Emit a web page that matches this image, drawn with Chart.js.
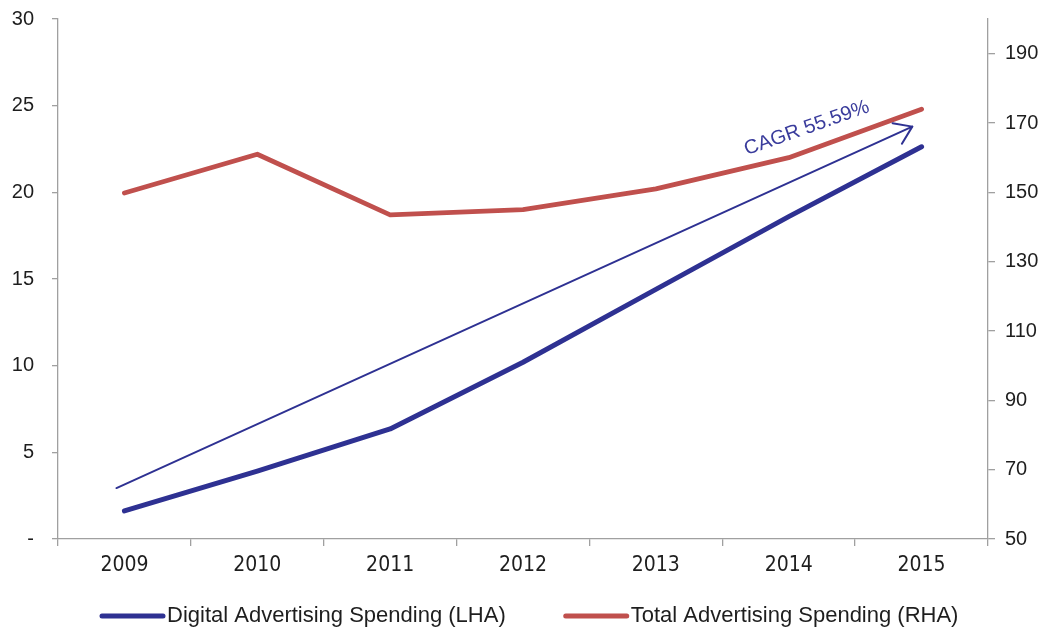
<!DOCTYPE html>
<html><head><meta charset="utf-8">
<script src="https://cdn.jsdelivr.net/npm/chart.js@4.4.0/dist/chart.umd.min.js"></script>
<style>html,body{margin:0;padding:0;background:#fff}#wrap{width:1054px;height:630px;position:relative}</style>
</head><body><div id="wrap"><canvas id="c" width="1054" height="630"></canvas></div>
<script>
const categories = ['2009', '2010', '2011', '2012', '2013', '2014', '2015'];
const digitalSpending = [1.62, 3.92, 6.35, 10.2, 14.4, 18.6, 22.63];
const totalSpending = [149.8, 161, 143.5, 145, 151, 160, 174];
const leftTicks = [0, 5, 10, 15, 20, 25, 30];
const rightTicks = [50, 70, 90, 110, 130, 150, 170, 190];
const trendX = [-0.06, 5.93];
const trendY = [2.94, 23.79];
const cagrLabel = 'CAGR 55.59%';
const seriesNames = ['Digital Advertising Spending (LHA)', 'Total Advertising Spending (RHA)'];

const BLUE = '#2e3192', RED = '#c0504d', AXIS = '#a0a0a0', TEXT = '#1e1e1e';
const SANS = "'Liberation Sans', Arial, sans-serif";
const NARROW = "'Liberation Sans Narrow', 'Arial Narrow', 'DejaVu Sans Condensed', sans-serif";

const annot = {
  id: 'annot',
  afterDatasetsDraw(chart) {
    const ctx = chart.ctx;
    const meta = chart.getDatasetMeta(2);
    const p0 = meta.data[0], p1 = meta.data[1];
    const ang = Math.atan2(p1.y - p0.y, p1.x - p0.x);
    ctx.save();
    ctx.strokeStyle = BLUE; ctx.lineWidth = 2; ctx.lineCap = 'round'; ctx.lineJoin = 'round';
    const L = 20, spread = 0.6;
    ctx.beginPath();
    ctx.moveTo(p1.x + L * Math.cos(ang + Math.PI - spread), p1.y + L * Math.sin(ang + Math.PI - spread));
    ctx.lineTo(p1.x, p1.y);
    ctx.lineTo(p1.x + L * Math.cos(ang + Math.PI + spread), p1.y + L * Math.sin(ang + Math.PI + spread));
    ctx.stroke();
    // label
    const lx = chart.scales.xt.getPixelForValue(5.15);
    const ly = chart.scales.y.getPixelForValue(23.4);
    ctx.translate(lx, ly);
    ctx.rotate(-19.5 * Math.PI / 180);
    ctx.fillStyle = '#3a3c9c';
    ctx.font = '20px ' + SANS;
    ctx.textAlign = 'center'; ctx.textBaseline = 'alphabetic';
    ctx.fillText(cagrLabel, 0, 0);
    ctx.restore();
  },
  afterDraw(chart) {
    const ctx = chart.ctx;
    ctx.save();
    ctx.font = '22px ' + SANS;
    ctx.textBaseline = 'middle';
    let x = 100;
    const y = 616;
    chart.data.datasets.slice(0, 2).forEach((ds) => {
      ctx.strokeStyle = ds.borderColor; ctx.lineWidth = 5; ctx.lineCap = 'round';
      ctx.beginPath(); ctx.moveTo(x + 2, y); ctx.lineTo(x + 63, y); ctx.stroke();
      ctx.fillStyle = TEXT;
      ctx.fillText(ds.label, x + 67, y);
      x += 67 + ctx.measureText(ds.label).width + 58;
    });
    ctx.restore();
  }
};

function fixV(width) {
  return function (s) { s.width = width; s.paddingTop = 0; s.paddingBottom = 0; };
}

new Chart(document.getElementById('c'), {
  type: 'line',
  data: {
    labels: categories,
    datasets: [
      { label: seriesNames[0], data: digitalSpending, borderColor: BLUE, backgroundColor: BLUE, borderWidth: 5,
        pointRadius: 0, xAxisID: 'x', yAxisID: 'y', tension: 0, borderCapStyle: 'round', borderJoinStyle: 'round' },
      { label: seriesNames[1], data: totalSpending, borderColor: RED, backgroundColor: RED, borderWidth: 4.8,
        pointRadius: 0, xAxisID: 'x', yAxisID: 'y2', tension: 0, borderCapStyle: 'round', borderJoinStyle: 'round' },
      { label: 'trend', data: trendX.map((x, i) => ({ x: x, y: trendY[i] })), borderColor: BLUE, borderWidth: 2,
        pointRadius: 0, xAxisID: 'xt', yAxisID: 'y', tension: 0, borderCapStyle: 'round' }
    ]
  },
  options: {
    responsive: false, animation: false, devicePixelRatio: 1,
    layout: { padding: { top: 19, bottom: 51, left: 0, right: 0 } },
    plugins: { legend: { display: false }, tooltip: { enabled: false } },
    scales: {
      x: {
        type: 'category', offset: true,
        grid: { display: true, drawOnChartArea: false, offset: true, tickLength: 7, color: AXIS, lineWidth: 1.3 },
        border: { color: AXIS, width: 1.3 },
        ticks: { font: { family: NARROW, size: 21 }, color: TEXT, padding: 7, maxRotation: 0, autoSkip: false },
        afterFit(s) { s.height = 40; s.paddingLeft = 0; s.paddingRight = 0; }
      },
      xt: { type: 'linear', display: false, min: -0.5, max: 6.5 },
      y: {
        position: 'left', min: 0, max: 30,
        afterBuildTicks(s) { s.ticks = leftTicks.map(v => ({ value: v })); },
        ticks: { callback: v => (v === 0 ? '-' : String(v)), font: { family: SANS, size: 20 }, color: TEXT, padding: 18 },
        grid: { drawOnChartArea: false, tickLength: 6, color: AXIS, lineWidth: 1.3 },
        border: { color: AXIS, width: 1.3 },
        afterFit: fixV(58)
      },
      y2: {
        position: 'right', min: 50, max: 200,
        afterBuildTicks(s) { s.ticks = rightTicks.map(v => ({ value: v })); },
        ticks: { font: { family: SANS, size: 20 }, color: TEXT, padding: 10 },
        grid: { drawOnChartArea: false, tickLength: 7, color: AXIS, lineWidth: 1.3 },
        border: { color: AXIS, width: 1.3 },
        afterFit: fixV(66)
      }
    }
  },
  plugins: [annot]
});
</script></body></html>
